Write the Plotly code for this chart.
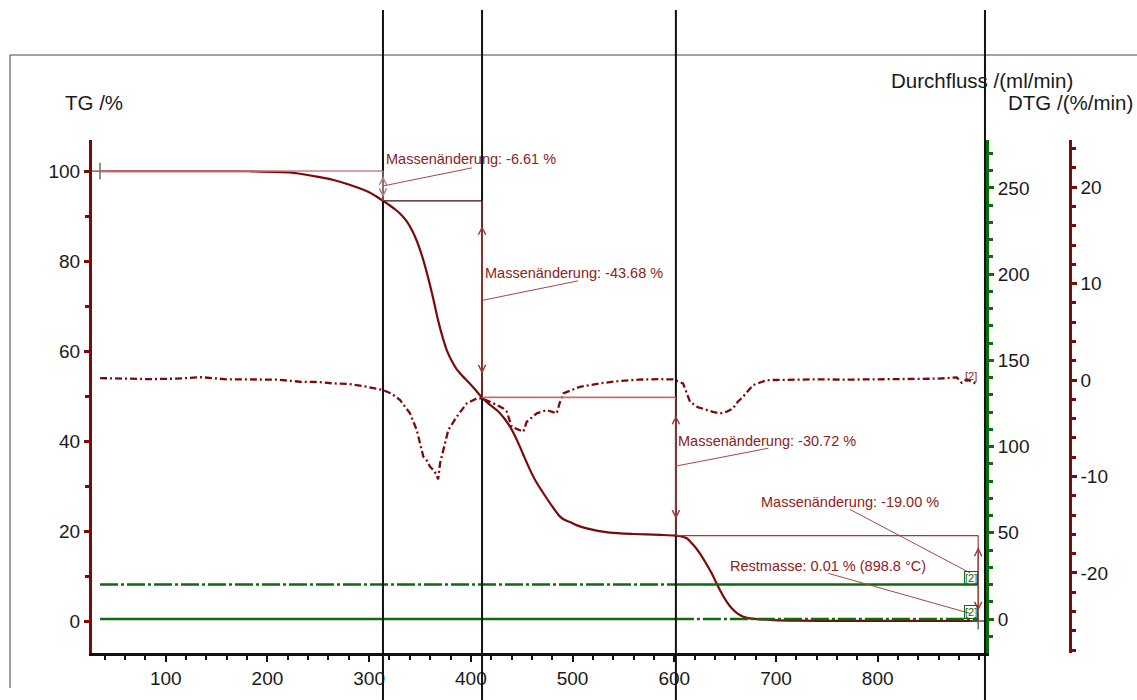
import plotly.graph_objects as go

# ---- thermogravimetric signal (TG, %) over temperature (°C) ----
tg_temp = [35.4, 100, 150, 183, 222, 232, 250, 265, 281.4, 300, 306, 313.9, 320, 326,
           332, 337, 342, 347, 352, 357, 362, 368, 372, 376.3, 381, 386, 392, 398,
           404, 410.7, 418, 425.4, 432, 438.5, 443, 448.3, 453, 458.2, 464, 471.3,
           479, 487.7, 492, 497.5, 505, 513.9, 525, 536.8, 560, 586, 600.8, 606, 612.2,
           618, 625.3, 631, 636.8, 641.5, 646.6, 651.5, 656.5, 662, 667.9, 674,
           681.1, 697.4, 720, 760, 820, 898.8]
tg_mass = [100.0, 100.0, 100.0, 99.95, 99.7, 99.4, 98.7, 98.0, 96.9, 95.3, 94.5, 93.33,
           92.4, 91.4, 90.2, 88.8, 86.9, 84.4, 81.15, 77.15, 72.65, 66.65, 63.25, 60.2,
           57.9, 56.0, 54.4, 53.0, 51.5, 49.75, 48.2, 46.9, 45.3, 43.2, 41.3, 38.7, 36.2,
           33.6, 31.0, 28.4, 25.8, 23.2, 22.5, 22.0, 21.2, 20.6, 20.05, 19.65, 19.35,
           19.15, 19.0, 18.85, 18.4, 17.1, 15.0, 12.9, 10.6, 8.4, 6.16, 4.3, 2.82, 1.7,
           0.96, 0.6, 0.44, 0.22, 0.08, 0.03, 0.02, 0.01]

# ---- derivative signal (DTG, %/min) ----
dtg_temp = [35.4, 60, 85, 110, 135, 160, 185, 210, 232, 250, 264.8, 280, 297.6, 313.9,
            322, 330.4, 340.2, 346.8, 353.3, 356.5, 359.9, 363, 366.4, 367.8, 369.7,
            372.9, 377.8, 386.1, 396, 405.8, 410.7, 422.1, 431.9, 435.3, 440.2, 446,
            451.6, 454.9, 464.8, 474.6, 484.4, 487.7, 490.9, 507.3, 527, 545, 565, 585,
            598.8, 608.6, 615.5, 623, 631.9, 638, 645, 651, 657.8, 662, 667.6, 677.5,
            690.9, 710, 740, 770, 800, 830, 860, 877.7, 882.6, 887.5, 897.4]
dtg_rate = [0.21, 0.12, 0.1, 0.15, 0.3, 0.08, 0.05, 0.05, -0.17, -0.2, -0.34, -0.4,
            -0.69, -1.04, -1.4, -2.07, -3.45, -5.18, -7.95, -8.3, -8.98, -9.3, -9.84,
            -10.3, -8.63, -7.25, -5.18, -3.8, -2.41, -1.9, -1.9, -2.41, -2.93, -3.28,
            -4.84, -5.1, -5.36, -4.32, -3.45, -3.11, -3.45, -2.25, -1.38, -0.69, -0.34,
            -0.1, 0.05, 0.1, 0.07, -0.34, -2.25, -2.8, -3.11, -3.3, -3.45, -3.3, -2.93,
            -2.3, -1.73, -0.52, 0.0, 0.05, 0.08, 0.05, 0.1, 0.12, 0.15, 0.28, -0.28,
            0.07, -0.41]

# ---- gas flows (ml/min); None splits the curve at the gas switch ----
flow_temp = [35.4, 601.6, None, 601.6, 898.8]
purge_flow = [20, 20, None, 0, 0]
protect_flow = [0, 0, None, 20, 20]

# ---- evaluated steps ----
step_bounds = [35.4, 313.6, 411.0, 601.6, 898.8]
mass_changes = [-6.61, -43.68, -30.72, -19.00]
residual_mass = 0.01
end_temp = 898.8

# tick labels
temp_ticks = [100, 200, 300, 400, 500, 600, 700, 800]
dtg_ticks = [-20, -10, 0, 10, 20]

levels = [100.0]
for dm in mass_changes:
    levels.append(round(levels[-1] + dm, 2))

TG_RED = "#7b0a0a"
GREEN = "#0d6b0d"
TXT_RED = "#8b2323"
FONT = "Liberation Sans, Arial, sans-serif"

fig = go.Figure()

fig.add_trace(go.Scatter(x=tg_temp, y=tg_mass, mode="lines",
                         line=dict(color=TG_RED, width=2.2, shape="spline", smoothing=0.8),
                         yaxis="y", hoverinfo="skip"))
fig.add_trace(go.Scatter(x=dtg_temp, y=dtg_rate, mode="lines",
                         line=dict(color=TG_RED, width=2.3, dash="7px,3px,2px,3px"),
                         yaxis="y3", hoverinfo="skip"))
fig.add_trace(go.Scatter(x=flow_temp, y=purge_flow, mode="lines", connectgaps=False,
                         line=dict(color=GREEN, width=2.6, dash="18px,3px,3px,3px"),
                         yaxis="y2", hoverinfo="skip"))
fig.add_trace(go.Scatter(x=flow_temp, y=protect_flow, mode="lines", connectgaps=False,
                         line=dict(color=GREEN, width=2.6),
                         yaxis="y2", hoverinfo="skip"))
# start / end markers
fig.add_trace(go.Scatter(x=[tg_temp[0], end_temp], y=[tg_mass[0], residual_mass],
                         mode="markers",
                         marker=dict(symbol="cross-thin", size=12,
                                     line=dict(color="#555555", width=1.3)),
                         yaxis="y", hoverinfo="skip"))

shapes = []
annotations = []

# outer frame
shapes.append(dict(type="line", xref="paper", yref="paper", x0=10 / 1137, x1=1.0,
                   y0=(700 - 55) / 700, y1=(700 - 55) / 700,
                   line=dict(color="#444444", width=1)))
shapes.append(dict(type="line", xref="paper", yref="paper", x0=10 / 1137, x1=10 / 1137,
                   y0=(700 - 55) / 700, y1=(700 - 688) / 700,
                   line=dict(color="#444444", width=1)))

# vertical evaluation limits
for t in step_bounds[1:4] + [905.5]:
    shapes.append(dict(type="line", xref="x", yref="paper", x0=t, x1=t,
                       y0=0, y1=(700 - 10) / 700, layer="above",
                       line=dict(color="#111111", width=2)))

# level reference lines
level_colors = ["#c98686", "#3a0c0c", "#c07070", "#a03a3a"]
level_widths = [1.6, 1.2, 1.6, 1.1]
for k in range(4):
    shapes.append(dict(type="line", xref="x", yref="y",
                       x0=step_bounds[k], x1=step_bounds[k + 1],
                       y0=levels[k], y1=levels[k],
                       line=dict(color=level_colors[k], width=level_widths[k])))

# double arrows for each mass step
arrow_colors = ["#b08080", "#9a3b3b", "#9a3b3b", "#9a3b3b"]
for k in range(4):
    hi, lo = levels[k], max(levels[k + 1], residual_mass)
    inset = 0.12 * abs(hi - lo)
    x_at = step_bounds[k + 1]
    shapes.append(dict(type="line", xref="x", yref="y", x0=x_at, x1=x_at, y0=hi, y1=lo,
                       line=dict(color=arrow_colors[k], width=1.2)))
    annotations.append(dict(x=x_at, y=lo + inset, ax=x_at, ay=hi - inset,
                            xref="x", yref="y", axref="x", ayref="y", text="",
                            showarrow=True, arrowhead=5, arrowside="end+start",
                            arrowsize=1.3, arrowwidth=1.1, arrowcolor=arrow_colors[k]))

# labels with leader lines
labels = [
    (f"Massenänderung: {mass_changes[0]:.2f} %", 314.6, 102.6, (313.9, 96.7, 401.1, 100.7)),
    (f"Massenänderung: {mass_changes[1]:.2f} %", 412.0, 77.4, (412.0, 71.3, 505.5, 75.6)),
    (f"Massenänderung: {mass_changes[2]:.2f} %", 601.9, 40.1, (600.7, 34.4, 692.5, 38.4)),
    (f"Massenänderung: {mass_changes[3]:.2f} %", 683.6, 26.5, (772.8, 24.8, 890.8, 10.7)),
    (f"Restmasse: {residual_mass:.2f} % ({end_temp:.1f} °C)", 653.2, 12.3,
     (751.5, 10.6, 890.8, 1.7)),
]
for text, tx, ty, (lx0, ly0, lx1, ly1) in labels:
    annotations.append(dict(x=tx, y=ty, xref="x", yref="y", text=text, showarrow=False,
                            xanchor="left", yanchor="middle",
                            font=dict(family=FONT, size=14.5, color=TXT_RED)))
    shapes.append(dict(type="line", xref="x", yref="y", x0=lx0, y0=ly0, x1=lx1, y1=ly1,
                       line=dict(color="#a04848", width=1)))

# curve tags
for fv in (20, 0):
    annotations.append(dict(x=891.8, y=fv, xref="x", yref="y2", text="[2]",
                            showarrow=False, xanchor="center", yanchor="bottom",
                            font=dict(family=FONT, size=11, color=GREEN),
                            bordercolor=GREEN, borderwidth=1, borderpad=0,
                            bgcolor="rgba(255,255,255,0)"))
annotations.append(dict(x=891.8, y=0.4, xref="x", yref="y3", text="[2]", showarrow=False,
                        xanchor="center", yanchor="middle",
                        font=dict(family=FONT, size=11, color=TXT_RED)))

# axis titles
for text, px, py in [("TG /%", 63, 103), ("Durchfluss /(ml/min)", 889, 80),
                     ("DTG /(%/min)", 1006, 103)]:
    annotations.append(dict(x=px / 1137, y=(700 - py) / 700, xref="paper", yref="paper",
                            text=text, showarrow=False, xanchor="left", yanchor="middle",
                            font=dict(family=FONT, size=20.5, color="#1a1a1a")))

tick_font = dict(family=FONT, size=19, color="#1a1a1a")
y_dom = [47 / 700, 560 / 700]

fig.update_layout(
    width=1137, height=700, autosize=False,
    margin=dict(l=0, r=0, t=0, b=0, pad=0, autoexpand=False),
    paper_bgcolor="white", plot_bgcolor="white",
    showlegend=False,
    shapes=shapes, annotations=annotations,
    xaxis=dict(domain=[92 / 1137, 986 / 1137], range=[27.5, 906.5],
               tickvals=temp_ticks, ticktext=[str(t) for t in temp_ticks],
               showgrid=False, zeroline=False,
               showline=True, linecolor="#111111", linewidth=2.5,
               ticks="outside", ticklen=6, tickwidth=2, tickcolor="#111111",
               minor=dict(dtick=20, tick0=0, ticks="outside", ticklen=4, tickwidth=2,
                          tickcolor="#111111"),
               tickfont=tick_font, anchor="y", automargin=False),
    yaxis=dict(domain=y_dom, range=[-7.1, 106.9], tick0=0, dtick=20,
               showgrid=False, zeroline=False, showline=True,
               linecolor=TG_RED, linewidth=3, ticks="outside", ticklen=5,
               tickwidth=2.5, tickcolor=TG_RED,
               minor=dict(dtick=10, tick0=0, ticks="outside", ticklen=4, tickwidth=2.5,
                          tickcolor=TG_RED),
               tickfont=tick_font, anchor="x", side="left", automargin=False),
    yaxis2=dict(domain=y_dom, range=[-19.7, 277.8], tick0=0, dtick=50,
                overlaying="y", side="right", anchor="x",
                showgrid=False, zeroline=False, showline=True,
                linecolor=GREEN, linewidth=3, ticks="outside", ticklen=5,
                tickwidth=2.5, tickcolor=GREEN,
                minor=dict(dtick=10, tick0=0, ticks="outside", ticklen=4, tickwidth=2.5,
                           tickcolor=GREEN),
                tickfont=tick_font, automargin=False),
    yaxis3=dict(domain=y_dom, range=[-28.3, 24.9],
                tickvals=dtg_ticks, ticktext=[str(t) for t in dtg_ticks],
                overlaying="y", side="right", anchor="free", position=1070 / 1137,
                showgrid=False, zeroline=False, showline=True,
                linecolor=TG_RED, linewidth=2.5, ticks="outside", ticklen=5,
                tickwidth=2.5, tickcolor=TG_RED,
                minor=dict(dtick=2, tick0=0, ticks="outside", ticklen=4, tickwidth=2.5,
                           tickcolor=TG_RED),
                tickfont=tick_font, automargin=False),
)

fig.write_html("out.html")
